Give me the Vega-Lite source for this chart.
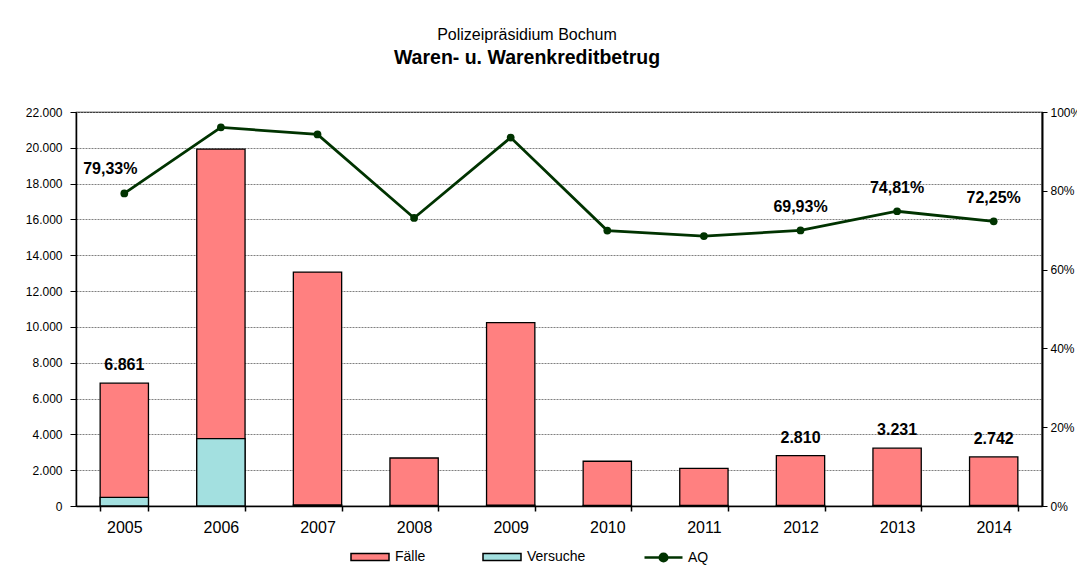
{
  "$schema": "https://vega.github.io/schema/vega-lite/v6.json",
  "width": 966,
  "height": 394,
  "autosize": {"type": "none"},
  "padding": {"left": 76, "top": 112, "right": 35, "bottom": 61},
  "background": "white",
  "config": {
    "font": "Liberation Sans",
    "locale": {"number": {"decimal": ",", "thousands": ".", "grouping": [3], "currency": ["", " €"]}},
    "view": {"stroke": "black", "strokeWidth": 1.2},
    "axis": {"labelFont": "Liberation Sans", "labelColor": "black", "domainColor": "black", "tickColor": "black"}
  },
  "title": {
    "text": "Polizeipräsidium Bochum",
    "subtitle": "Waren- u. Warenkreditbetrug",
    "frame": "group",
    "anchor": "middle",
    "dx": -32,
    "offset": 39,
    "font": "Liberation Sans",
    "fontSize": 16,
    "fontWeight": "normal",
    "color": "black",
    "subtitleFont": "Liberation Sans",
    "subtitleFontSize": 19.5,
    "subtitleFontWeight": "bold",
    "subtitleColor": "black",
    "subtitlePadding": 6
  },
  "datasets": {
    "jahre": [
      {"Jahr": "2005", "Fälle": 6861, "Versuche": 480, "AQ": 0.7933},
      {"Jahr": "2006", "Fälle": 19930, "Versuche": 3760, "AQ": 0.961},
      {"Jahr": "2007", "Fälle": 13060, "Versuche": 60, "AQ": 0.943},
      {"Jahr": "2008", "Fälle": 2680, "Versuche": 40, "AQ": 0.731},
      {"Jahr": "2009", "Fälle": 10240, "Versuche": 50, "AQ": 0.935},
      {"Jahr": "2010", "Fälle": 2500, "Versuche": 40, "AQ": 0.699},
      {"Jahr": "2011", "Fälle": 2105, "Versuche": 30, "AQ": 0.685},
      {"Jahr": "2012", "Fälle": 2810, "Versuche": 40, "AQ": 0.6993},
      {"Jahr": "2013", "Fälle": 3231, "Versuche": 40, "AQ": 0.7481},
      {"Jahr": "2014", "Fälle": 2742, "Versuche": 40, "AQ": 0.7225}
    ]
  },
  "data": {"name": "jahre"},
  "encoding": {
    "x": {
      "field": "Jahr",
      "type": "nominal",
      "scale": {"paddingInner": 0.5, "paddingOuter": 0.25},
      "axis": {
        "title": null,
        "labelAngle": 0,
        "labelFontSize": 16,
        "labelPadding": 8,
        "tickBand": "extent",
        "tickSize": 5,
        "domainWidth": 1.5,
        "tickWidth": 1.5
      }
    }
  },
  "layer": [
    {
      "transform": [{"fold": ["Fälle", "Versuche"], "as": ["Serie", "Wert"]}],
      "mark": {"type": "bar", "stroke": "black", "strokeWidth": 1.3},
      "encoding": {
        "y": {
          "field": "Wert",
          "type": "quantitative",
          "stack": null,
          "scale": {"domain": [0, 22000], "nice": false},
          "axis": {
            "title": null,
            "orient": "left",
            "values": [0, 2000, 4000, 6000, 8000, 10000, 12000, 14000, 16000, 18000, 20000, 22000],
            "format": ",.0f",
            "labelFontSize": 12,
            "labelPadding": 8,
            "tickSize": 6,
            "domainWidth": 1.5,
            "grid": true,
            "gridColor": "#808080",
            "gridDash": [2, 1],
            "gridWidth": 1
          }
        },
        "color": {
          "field": "Serie",
          "type": "nominal",
          "scale": {"domain": ["Fälle", "Versuche"], "range": ["#FF8080", "#A3E0E0"]},
          "legend": {
            "title": null,
            "orient": "none",
            "direction": "horizontal",
            "legendX": 274,
            "legendY": 425,
            "symbolType": "M-1,-0.18H1V0.18H-1Z",
            "symbolSize": 1444,
            "symbolStrokeColor": "black",
            "symbolStrokeWidth": 1.5,
            "labelFont": "Liberation Sans",
            "labelFontSize": 14,
            "labelColor": "black",
            "labelOffset": 5,
            "columnPadding": 54
          }
        }
      }
    },
    {
      "transform": [{"filter": {"field": "Jahr", "oneOf": ["2005", "2012", "2013", "2014"]}}],
      "mark": {"type": "text", "fontSize": 16, "fontWeight": "bold", "baseline": "middle", "dy": -18, "color": "black"},
      "encoding": {
        "y": {"field": "Fälle", "type": "quantitative", "scale": {"domain": [0, 22000], "nice": false}, "axis": null},
        "text": {"field": "Fälle", "type": "quantitative", "format": ",.0f"}
      }
    },
    {
      "mark": {"type": "line", "color": "#003300", "strokeWidth": 2.8},
      "encoding": {
        "y": {
          "field": "AQ",
          "type": "quantitative",
          "scale": {"domain": [0, 1], "nice": false},
          "axis": {
            "title": null,
            "orient": "right",
            "values": [0, 0.2, 0.4, 0.6, 0.8, 1],
            "format": ".0%",
            "labelFontSize": 12,
            "labelPadding": 3,
            "tickSize": 5,
            "domainWidth": 2,
            "grid": false
          }
        }
      }
    },
    {
      "mark": {"type": "point", "filled": true, "opacity": 1, "size": 60},
      "encoding": {
        "y": {"field": "AQ", "type": "quantitative", "scale": {"domain": [0, 1], "nice": false}, "axis": null},
        "color": {
          "datum": "AQ",
          "type": "nominal",
          "scale": {"domain": ["AQ"], "range": ["#003300"]},
          "legend": {
            "title": null,
            "orient": "none",
            "direction": "horizontal",
            "legendX": 567,
            "legendY": 425,
            "symbolType": "M-1,0H1M-0.2,0A0.2,0.2,0,1,1,0.2,0A0.2,0.2,0,1,1,-0.2,0Z",
            "symbolSize": 1444,
            "symbolStrokeColor": "#003300",
            "symbolStrokeWidth": 2.5,
            "labelFont": "Liberation Sans",
            "labelFontSize": 14,
            "labelColor": "black",
            "labelOffset": 4
          }
        }
      }
    },
    {
      "transform": [{"filter": {"field": "Jahr", "oneOf": ["2012", "2013", "2014"]}}],
      "mark": {"type": "text", "fontSize": 16, "fontWeight": "bold", "baseline": "middle", "dy": -23, "color": "black"},
      "encoding": {
        "y": {"field": "AQ", "type": "quantitative", "scale": {"domain": [0, 1], "nice": false}, "axis": null},
        "text": {"field": "AQ", "type": "quantitative", "format": ".2%"}
      }
    },
    {
      "transform": [{"filter": {"field": "Jahr", "equal": "2005"}}],
      "mark": {"type": "text", "fontSize": 16, "fontWeight": "bold", "baseline": "middle", "dy": -24, "dx": -14, "color": "black"},
      "encoding": {
        "y": {"field": "AQ", "type": "quantitative", "scale": {"domain": [0, 1], "nice": false}, "axis": null},
        "text": {"field": "AQ", "type": "quantitative", "format": ".2%"}
      }
    }
  ],
  "resolve": {"scale": {"y": "independent", "color": "independent"}}
}
